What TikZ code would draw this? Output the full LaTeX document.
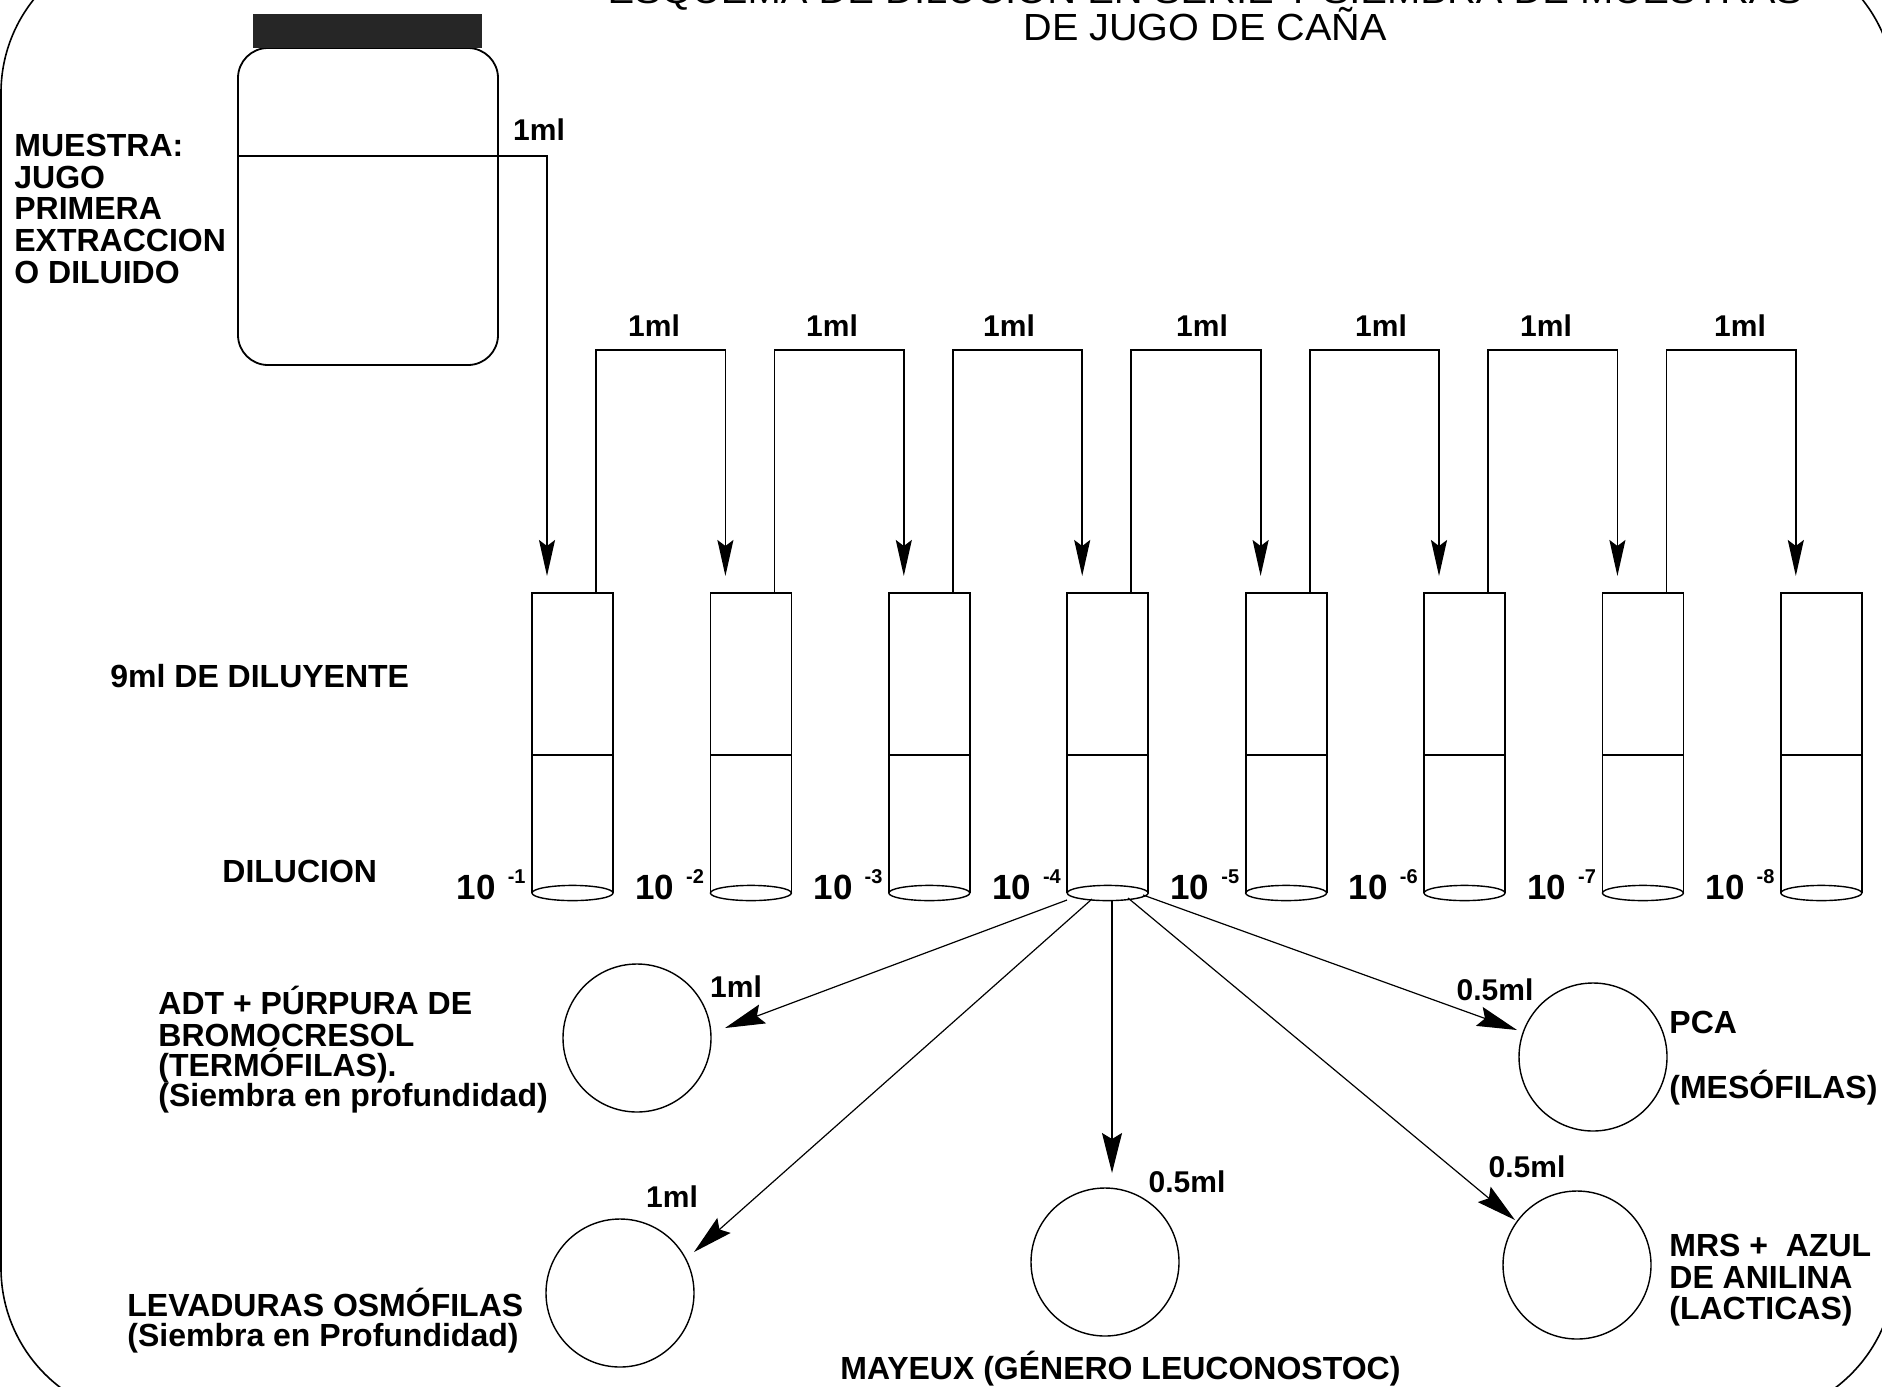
\documentclass[tikz,border=0pt]{standalone}
\usepackage{fontspec}
\setmainfont{Liberation Sans}
\usetikzlibrary{arrows.meta}
\begin{document}
\begin{tikzpicture}[x=0.5pt,y=-0.5pt,
  lbl/.style={font=\bfseries\fontsize{16}{16}\selectfont, inner sep=0pt, anchor=base west},
  ml/.style={font=\bfseries\fontsize{15}{16}\selectfont, inner sep=0pt},
  ttl/.style={font=\fontsize{18}{18}\selectfont, inner sep=0pt, anchor=base},
  ln/.style={line width=0.9pt},
  arr/.style={line width=0.9pt, -{Stealth[length=18pt,width=8pt,inset=3pt]}},
  darr/.style={line width=0.6pt, -{Stealth[length=20pt,width=10pt,inset=3pt]}},
  plate/.style={circle, draw, line width=0.7pt, minimum size=74pt, inner sep=0pt},
]
\useasboundingbox (0,0) rectangle (1882,1386);
\begin{scope}
\clip (0,0) rectangle (1882,1386);
% frame
\draw[line width=0.8pt, rounded corners=75pt] (1,-57) rectangle (1895,1418);
% title
\node[ttl] (title1) at (1205,4) {\scalebox{1.11}[1]{ESQUEMA DE DILUCION EN SERIE Y SIEMBRA DE MUESTRAS}};
\node[ttl] (title2) at (1205,41) {\scalebox{1.1}[1.05]{DE JUGO DE CAÑA}};
% jar
\node[draw, line width=0.9pt, rounded corners=15pt, minimum width=130pt, minimum height=158.5pt, inner sep=0pt] (jar) at (368,206.5) {};
\node[fill=black!85, minimum width=114.5pt, minimum height=17pt, inner sep=0pt] (cap) at (367.5,31) {};
\coordinate (jl) at (238,156);
\coordinate (jr) at (498,156);
\draw[ln] (jl) -- (jr);
\node[ml] (jml) at (539,130) {1ml};
% tubes
\foreach \i in {1,...,8} {
  \pgfmathsetmacro\l{532+178.4*(\i-1)}
  \pgfmathsetmacro\r{\l+81}
  \pgfmathsetmacro\c{\l+40.5}
  \draw[ln] (\l,893) -- (\l,593) -- (\r,593) -- (\r,893);
  \draw[line width=0.7pt] (\l,755) -- (\r,755);
  \draw[line width=0.7pt] (\c,893) ellipse [x radius=20.25pt, y radius=3.8pt];
  \coordinate (in\i) at (\l+15,576);
  \coordinate (out\i) at (\r-17,593);
  \node[font=\bfseries\fontsize{17.5}{18}\selectfont, inner sep=0pt, anchor=base east] (d\i) at (\l-6,899) {10\hspace{6pt}\raisebox{8pt}{\fontsize{10}{10}\selectfont -\i}};
}
% transfers
\draw[arr] (jr) -| (in1);
\foreach \i [evaluate=\i as \j using int(\i+1)] in {1,...,7} {
  \draw[arr] (out\i) -- ++(0,-243) -| (in\j);
}
\foreach \i/\x in {1/654,2/832,3/1009,4/1202,5/1381,6/1546,7/1740} {
  \node[ml] (m\i) at (\x,326) {1ml};
}
% labels left
\node[lbl] (mu1) at (14,156) {MUESTRA:};
\node[lbl] (mu2) at (14,188) {JUGO};
\node[lbl] (mu3) at (14,219) {PRIMERA};
\node[lbl] (mu4) at (14,251) {EXTRACCION};
\node[lbl] (mu5) at (14,283) {O DILUIDO};
\node[lbl] (dil9) at (110,687) {9ml DE DILUYENTE};
\node[lbl] (dilu) at (222,882) {DILUCION};
% plates
\node[plate] (adt) at (637,1038) {};
\node[plate] (lev) at (620,1293) {};
\node[plate] (may) at (1105,1262) {};
\node[plate] (mrs) at (1577,1265) {};
\node[plate] (pca) at (1593,1057) {};
% spreading arrows
\coordinate (s1) at (1067,900);
\coordinate (s2) at (1092,899);
\coordinate (s3) at (1112,900);
\coordinate (s4) at (1128,898);
\coordinate (s5) at (1143,895);
\coordinate (tadt) at (725,1028);
\coordinate (tlev) at (694,1252);
\coordinate (tmay) at (1112,1173);
\coordinate (tmrs) at (1515,1220);
\coordinate (tpca) at (1517,1030);
\draw[darr] (s1) -- (tadt);
\draw[darr] (s2) -- (tlev);
\draw[darr] (s3) -- (tmay);
\draw[darr] (s4) -- (tmrs);
\draw[darr] (s5) -- (tpca);
\node[ml] (madt) at (736,987) {1ml};
\node[ml] (mlev) at (672,1197) {1ml};
\node[ml] (mmay) at (1187,1182) {0.5ml};
\node[ml] (mmrs) at (1527,1167) {0.5ml};
\node[ml] (mpca) at (1495,990) {0.5ml};
% plate labels
\node[lbl] (a1) at (158,1014) {ADT + PÚRPURA DE};
\node[lbl] (a2) at (158,1046) {BROMOCRESOL};
\node[lbl] (a3) at (158,1076) {(TERMÓFILAS).};
\node[lbl] (a4) at (158,1106) {(Siembra en profundidad)};
\node[lbl] (l1) at (127,1316) {LEVADURAS OSMÓFILAS};
\node[lbl] (l2) at (127,1346) {(Siembra en Profundidad)};
\node[lbl] (p1) at (1669,1033) {PCA};
\node[lbl] (p2) at (1669,1098) {(MESÓFILAS)};
\node[lbl] (r1) at (1669,1256) {MRS +\ \ AZUL};
\node[lbl] (r2) at (1669,1288) {DE ANILINA};
\node[lbl] (r3) at (1669,1319) {(LACTICAS)};
\node[lbl] (my) at (840,1379) {MAYEUX (GÉNERO LEUCONOSTOC)};
\end{scope}
\end{tikzpicture}
\end{document}
